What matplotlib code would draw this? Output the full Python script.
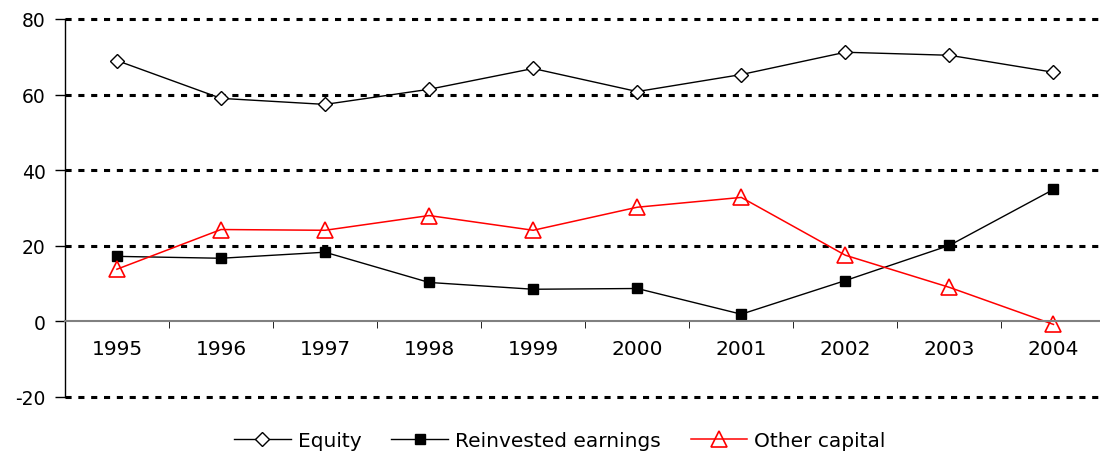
import matplotlib
matplotlib.use("Agg")
import matplotlib.pyplot as plt
import numpy as np

plt.rcParams['font.family'] = ['DejaVu Sans']
plt.rcParams['axes.unicode_minus'] = False

years = ['1995', '1996', '1997', '1998', '1999', '2000', '2001', '2002', '2003', '2004']
equity = [69.0, 59.0, 57.4, 61.4, 66.9, 60.8, 65.3, 71.2, 70.4, 65.9]
reinvested = [17.2, 16.7, 18.3, 10.3, 8.5, 8.7, 1.9, 10.8, 20.1, 34.9]
other = [13.8, 24.3, 24.1, 28.0, 24.1, 30.2, 32.8, 17.5, 9.0, -0.8]

fig = plt.figure(figsize=(11, 4.52), dpi=100)
ax = fig.add_axes([0.059, 0.1195, 0.946, 0.8363])

x = np.arange(len(years))
ax.plot(x, equity, color='black', lw=1, marker='D', ms=7, mfc='white', mec='black', mew=1, label='Equity')
ax.plot(x, reinvested, color='black', lw=1, marker='s', ms=7, mfc='black', mec='black', label='Reinvested earnings')
ax.plot(x, other, color='red', lw=1.1, marker='^', ms=11, mfc='none', mec='red', mew=1.2, label='Other capital')

ax.set_ylim(-20, 80)
ax.set_xlim(-0.5, len(years) - 0.5)
ax.set_yticks([-20, 0, 20, 40, 60, 80])
for v in [-20, 20, 40, 60, 80]:
    ax.axhline(v, color='black', lw=2.2, ls=(0, (2, 2.2)), zorder=0, clip_on=False)

for s in ['top', 'right']:
    ax.spines[s].set_visible(False)
ax.spines['left'].set_linewidth(1)
ax.spines['bottom'].set_position(('data', 0))
ax.spines['bottom'].set_color('#808080')
ax.spines['bottom'].set_linewidth(1.5)

ax.set_xticks(x)
ax.set_xticklabels(years)
ax.set_xticks(np.arange(0.5, len(years) - 0.5, 1), minor=True)
ax.tick_params(axis='x', which='major', length=0, pad=13, labelsize=14.5)
ax.tick_params(axis='x', which='minor', length=5, color='black', direction='out')
ax.tick_params(axis='y', length=7, width=1, labelsize=13.5, pad=7)

fig.legend(loc='center', bbox_to_anchor=(0.509, 0.024), ncol=3, frameon=False,
           fontsize=14.5, handlelength=2.8, handletextpad=0.35, columnspacing=1.5, borderpad=0)

fig.savefig('out.png', dpi=100)
